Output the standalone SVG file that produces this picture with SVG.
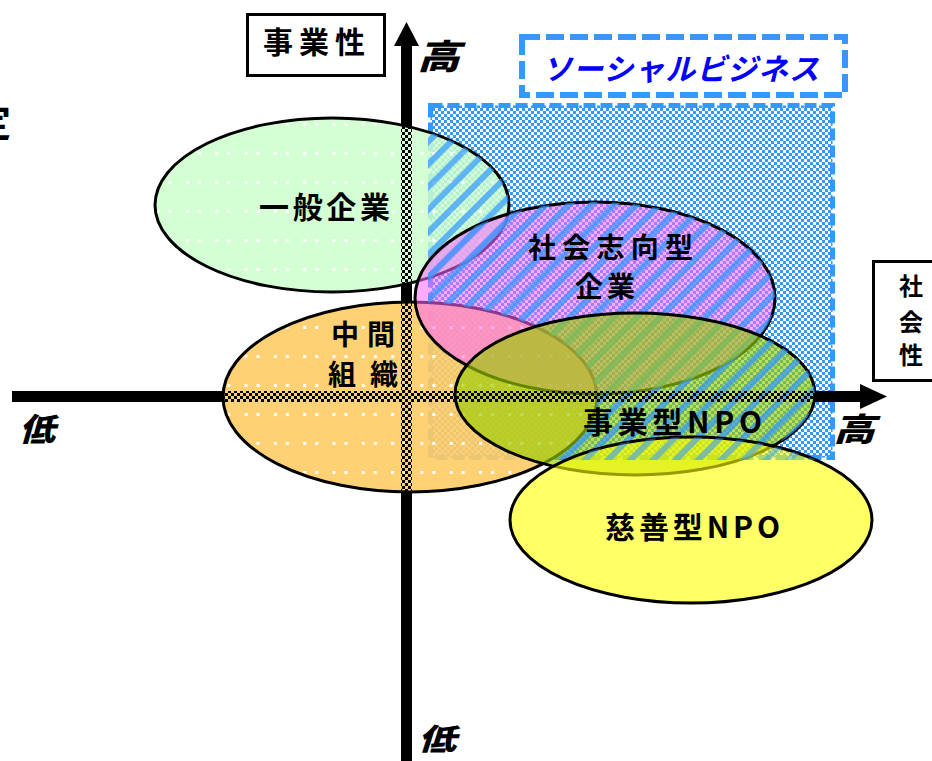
<svg xmlns="http://www.w3.org/2000/svg" width="932" height="761" viewBox="0 0 932 761">
  <defs>
    <style>
      .lbl { font-family: "Noto Sans CJK JP", "Noto Sans", sans-serif; font-weight: 700; fill: #000; }
      .ax { font-family: "Noto Sans CJK JP", "Noto Sans", sans-serif; font-weight: 900; font-style: italic; fill: #000; }
      .ell { stroke: #000; stroke-width: 3; }
      .box { fill: #fff; stroke: #000; stroke-width: 3; }
    </style>
    <pattern id="pBlue" width="6" height="6" patternUnits="userSpaceOnUse">
      <rect width="6" height="6" fill="#fff"/>
      <rect width="3" height="3" fill="#3399ff"/>
      <rect x="3" y="3" width="3" height="3" fill="#3399ff"/>
    </pattern>
    <pattern id="pStripe" width="16" height="16" patternUnits="userSpaceOnUse" patternTransform="rotate(45)">
      <rect width="6" height="16" fill="#3399ff"/>
    </pattern>
    <pattern id="pCheck" width="6" height="6" patternUnits="userSpaceOnUse">
      <rect width="3" height="3" fill="#000"/>
      <rect x="3" y="3" width="3" height="3" fill="#000"/>
    </pattern>
    <pattern id="pDots" patternUnits="userSpaceOnUse" x="186" y="152" width="29.3" height="29">
      <rect width="3" height="3" fill="#fff"/>
      <rect x="12" width="3" height="3" fill="#fff"/>
    </pattern>
    <clipPath id="cRect"><rect x="428" y="103" width="407" height="357"/></clipPath>
    <mask id="mE1" maskUnits="userSpaceOnUse" x="0" y="0" width="932" height="761">
      <g clip-path="url(#cRect)"><ellipse cx="332" cy="205" rx="177" ry="87" fill="#fff"/></g>
    </mask>
    <mask id="mE2" maskUnits="userSpaceOnUse" x="0" y="0" width="932" height="761">
      <g clip-path="url(#cRect)">
        <ellipse cx="595" cy="298" rx="180" ry="96" fill="#fff"/>
        <ellipse cx="410" cy="397" rx="187" ry="95" fill="#000"/>
      </g>
    </mask>
    <mask id="mE4" maskUnits="userSpaceOnUse" x="0" y="0" width="932" height="761">
      <g clip-path="url(#cRect)">
        <ellipse cx="635" cy="394" rx="180" ry="81" fill="#fff"/>
        <ellipse cx="595" cy="298" rx="180" ry="96" fill="#000"/>
        <ellipse cx="410" cy="397" rx="187" ry="95" fill="#000"/>
      </g>
    </mask>
    <mask id="mE5" maskUnits="userSpaceOnUse" x="0" y="0" width="932" height="761">
      <g clip-path="url(#cRect)"><ellipse cx="691" cy="520" rx="181" ry="83" fill="#fff"/></g>
    </mask>
    <mask id="mOut" maskUnits="userSpaceOnUse" x="0" y="0" width="932" height="761">
      <rect width="932" height="761" fill="#fff"/>
      <ellipse cx="332" cy="205" rx="177" ry="87" fill="#000"/>
      <ellipse cx="410" cy="397" rx="187" ry="95" fill="#000"/>
      <ellipse cx="635" cy="394" rx="180" ry="81" fill="#000"/>
    </mask>
  </defs>

  <rect width="932" height="761" fill="#fff"/>

  <!-- partial character at left edge -->
  <text class="lbl" x="-27" y="136" font-size="38" font-weight="400">定</text>

  <g id="axis-title-business">
    <rect class="box" x="247.5" y="14.5" width="137" height="61"/>
    <text class="lbl" x="263" y="53" font-size="30" textLength="102" lengthAdjust="spacing">事業性</text>
  </g>

  <g id="axis-title-social">
    <rect class="box" x="873.5" y="261.5" width="80" height="119"/>
    <text class="lbl" x="911" y="295" font-size="24" text-anchor="middle">社</text>
    <text class="lbl" x="911" y="331" font-size="24" text-anchor="middle">会</text>
    <text class="lbl" x="911" y="364" font-size="24" text-anchor="middle">性</text>
  </g>

  <g id="social-business">
    <rect x="430.5" y="105.5" width="402" height="352" fill="url(#pBlue)" stroke="#3399ff" stroke-width="5" stroke-dasharray="12 5"/>
    <rect x="522" y="37" width="323" height="58" fill="#fff" stroke="#3399ff" stroke-width="6" stroke-dasharray="18 6"/>
    <text x="542" y="80" font-family="Noto Sans CJK JP, Noto Sans, sans-serif" font-weight="700" font-style="italic" font-size="30" fill="#0000ff" textLength="277" lengthAdjust="spacing">ソーシャルビジネス</text>
  </g>

  <g id="general-company">
    <ellipse class="ell" cx="332" cy="205" rx="177" ry="87" fill="#ccffcc" fill-opacity="0.85"/>
    <ellipse cx="332" cy="205" rx="175" ry="85" fill="url(#pDots)"/>
    <rect x="428" y="103" width="407" height="357" fill="url(#pStripe)" opacity="0.7" mask="url(#mE1)"/>
    <text class="lbl" x="259" y="218" font-size="30" textLength="131" lengthAdjust="spacing">一般企業</text>
  </g>

  <g id="intermediate-org">
    <ellipse class="ell" cx="410" cy="397" rx="187" ry="95" fill="#ffcc66" fill-opacity="0.9"/>
    <ellipse cx="410" cy="397" rx="185" ry="93" fill="url(#pDots)"/>
    <text class="lbl" x="331" y="345" font-size="28" textLength="64" lengthAdjust="spacing">中間</text>
    <text class="lbl" x="328" y="385" font-size="28" textLength="70" lengthAdjust="spacing">組織</text>
  </g>

  <g id="social-company">
    <ellipse class="ell" cx="595" cy="298" rx="180" ry="96" fill="#ff66ff" fill-opacity="0.55"/>
    <rect x="428" y="103" width="407" height="357" fill="url(#pStripe)" opacity="0.7" mask="url(#mE2)"/>
    <text class="lbl" x="528" y="258" font-size="28" textLength="165" lengthAdjust="spacing">社会志向型</text>
    <text class="lbl" x="575" y="297" font-size="28" textLength="60" lengthAdjust="spacing">企業</text>
  </g>

  <g id="business-npo">
    <ellipse class="ell" cx="635" cy="394" rx="180" ry="81" fill="#99cc00" fill-opacity="0.65"/>
    <rect x="428" y="103" width="407" height="357" fill="url(#pStripe)" opacity="0.7" mask="url(#mE4)"/>
    <text class="lbl" x="583" y="433" font-size="30" textLength="179" lengthAdjust="spacing">事業型NPO</text>
  </g>

  <g id="charity-npo">
    <ellipse class="ell" cx="691" cy="520" rx="181" ry="83" fill="#ffff00" fill-opacity="0.6"/>
    <rect x="428" y="103" width="407" height="357" fill="url(#pStripe)" opacity="0.45" mask="url(#mE5)"/>
    <text class="lbl" x="605" y="538" font-size="30" textLength="175" lengthAdjust="spacing">慈善型NPO</text>
  </g>

  <g id="connectors">
    <g mask="url(#mOut)" fill="#000">
      <rect x="401" y="44" width="11" height="717"/>
      <rect x="12" y="391" width="850" height="11"/>
    </g>
    <g fill="url(#pCheck)">
      <rect x="401" y="44" width="11" height="717"/>
      <rect x="12" y="391" width="850" height="11"/>
    </g>
    <polygon points="406.5,22 419,46 394,46" fill="#000"/>
    <polygon points="887,396.5 860,384 860,409" fill="#000"/>
  </g>

  <g id="axis-labels">
    <text class="ax" x="417" y="69" font-size="34" textLength="43" lengthAdjust="spacingAndGlyphs">高</text>
    <text class="ax" x="833" y="441" font-size="32" textLength="42" lengthAdjust="spacingAndGlyphs">高</text>
    <text class="ax" x="19" y="441" font-size="32" textLength="36" lengthAdjust="spacingAndGlyphs">低</text>
    <text class="ax" x="418" y="750" font-size="30" textLength="38" lengthAdjust="spacingAndGlyphs">低</text>
  </g>
</svg>
